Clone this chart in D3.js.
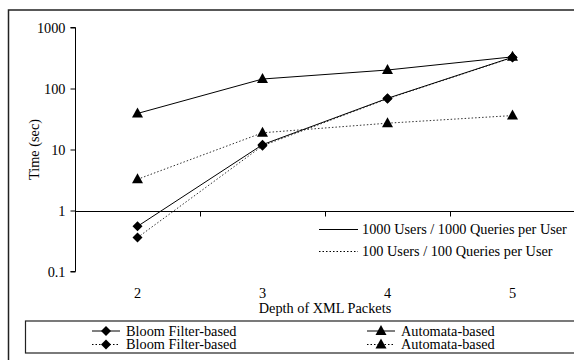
<!DOCTYPE html>
<html><head><meta charset="utf-8">
<script src="https://cdn.jsdelivr.net/npm/d3@7"></script>
<style>body{margin:0;background:#fff}svg{display:block}</style>
</head><body><svg id="c" width="574" height="360" font-family="Liberation Serif"></svg>
<script>
const categories = ["2","3","4","5"];
const yTicks = [0.1, 1, 10, 100, 1000];
const bloom1000 = [0.55, 12, 69, 325];
const automata1000 = [39, 143, 201, 330];
const bloom100 = [0.36, 11.5, 68, 322];
const automata100 = [3.25, 18.8, 27, 36];
const seriesNames = ["Bloom Filter-based", "Automata-based"];
const scenarioNames = ["1000 Users / 1000 Queries per User", "100 Users / 100 Queries per User"];

const FF = "Liberation Serif";
const svg = d3.select("#c");
const fs = 14.3;
function txt(sel){ return sel.append("text").attr("font-family",FF).attr("font-size",fs).attr("fill","#000"); }

svg.append("rect").attr("x",8.5).attr("y",10).attr("width",600).attr("height",400)
  .attr("fill","none").attr("stroke","#222").attr("stroke-width",1.5);

const x = d3.scaleBand().domain(categories).range([75,575]);
const y = d3.scaleLog().domain([0.1,1000]).range([271.5,27.5]);

const yAxis = svg.append("g").attr("transform","translate(75.5,0)")
  .call(d3.axisLeft(y).tickValues(yTicks).tickFormat(d=>String(d)).tickSize(5).tickPadding(5));
yAxis.attr("font-family",FF).attr("font-size",fs);
yAxis.select(".domain").attr("d","M-5,"+y(1000)+"H0V"+y(0.1)+"H-5").attr("stroke","#000");
yAxis.selectAll("line").attr("stroke","#000");
yAxis.selectAll("text").attr("font-family",FF).attr("font-size",fs).attr("fill","#000");

const xAxis = svg.append("g").attr("transform","translate(0,"+(Math.round(y(1))+0.5)+")");
xAxis.append("line").attr("x1",75).attr("x2",575).attr("stroke","#000");
categories.slice(1).forEach(c=>{
  xAxis.append("line").attr("x1",Math.round(x(c))+0.5).attr("x2",Math.round(x(c))+0.5).attr("y1",0).attr("y2",5).attr("stroke","#000");
});
categories.forEach(d=>{
  txt(svg).attr("x",x(d)+x.bandwidth()/2).attr("y",298).attr("text-anchor","middle").text(d);
});
txt(svg).attr("x",325).attr("y",312.5).attr("text-anchor","middle").text("Depth of XML Packets");
txt(svg).attr("transform","translate(39,149.5) rotate(-90)").attr("text-anchor","middle").text("Time (sec)");

const cx = d=>x(d)+x.bandwidth()/2;
const line = d3.line().x((d,i)=>cx(categories[i])).y(d=>y(d));
function drawSeries(vals, dashed, shape){
  svg.append("path").attr("d",line(vals)).attr("fill","none")
    .attr("stroke", dashed ? "#333" : "#000").attr("stroke-width",1)
    .attr("stroke-dasharray", dashed ? "1.5,2" : null);
  vals.forEach((v,i)=>drawMarker(cx(categories[i]), y(v), shape));
}
function drawMarker(px,py,shape){
  if(shape==="d"){
    svg.append("path").attr("d","M0,-5L5,0L0,5L-5,0Z").attr("transform","translate("+px+","+py+")").attr("fill","#000");
  } else {
    svg.append("path").attr("d","M0,-6L5.5,4L-5.5,4Z").attr("transform","translate("+px+","+py+")").attr("fill","#000");
  }
}
drawSeries(bloom100, true, "d");
drawSeries(automata100, true, "t");
drawSeries(bloom1000, false, "d");
drawSeries(automata1000, false, "t");

scenarioNames.forEach((n,i)=>{
  const yy = 229.5 + i*22;
  svg.append("line").attr("x1",319).attr("x2",358).attr("y1",yy).attr("y2",yy).attr("stroke","#000")
    .attr("stroke-dasharray", i ? "1.5,2" : null);
  txt(svg).attr("x",362).attr("y",yy+4.5).text(n);
});

svg.append("rect").attr("x",25.5).attr("y",321).attr("width",560).attr("height",32)
  .attr("fill","none").attr("stroke","#222").attr("stroke-width",1.2);
const leg = [[0,0],[1,0],[0,1],[1,1]];
leg.forEach(([s,r])=>{
  const lx = s ? 381 : 106;
  const ly = 331 + r*13.5;
  svg.append("line").attr("x1",lx-14).attr("x2",lx+14).attr("y1",ly).attr("y2",ly).attr("stroke","#000")
    .attr("stroke-dasharray", r ? "1.5,2" : null);
  drawMarker(lx, ly, s ? "t" : "d");
  txt(svg).attr("x",lx+20).attr("y",ly+4.5).text(seriesNames[s]);
});
</script></body></html>
